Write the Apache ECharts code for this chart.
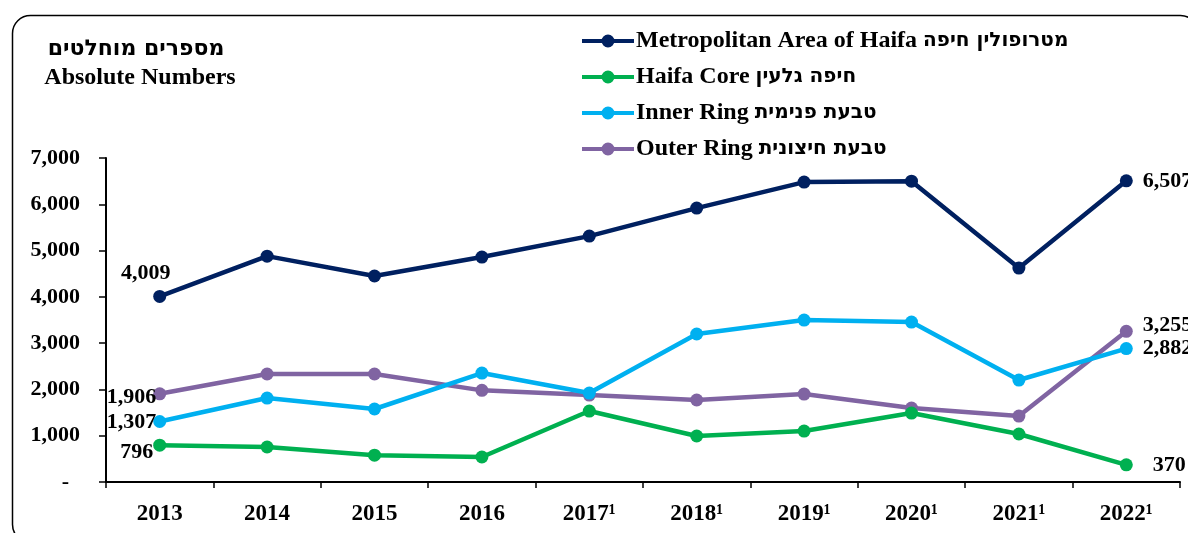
<!DOCTYPE html>
<html>
<head>
<meta charset="utf-8">
<script src="https://cdn.jsdelivr.net/npm/echarts@6/dist/echarts.min.js"></script>
<style>
  html, body { margin: 0; padding: 0; background: #fff; }
  #chart { width: 1188px; height: 533px; }
</style>
</head>
<body>
<div id="chart"></div>
<script>
const years = ['2013', '2014', '2015', '2016', '2017¹', '2018¹', '2019¹', '2020¹', '2021¹', '2022¹'];
const yTicks = [0, 1000, 2000, 3000, 4000, 5000, 6000, 7000];

const namesEn = ['Metropolitan Area of Haifa', 'Haifa Core', 'Inner Ring', 'Outer Ring'];
const namesHe = ['מטרופולין חיפה', 'חיפה גלעין', 'טבעת פנימית', 'טבעת חיצונית'];
const seriesNames = namesEn.map((n, i) => n + ' ' + namesHe[i]);

const metro = [4009, 4880, 4450, 4860, 5313, 5918, 6480, 6500, 4622, 6507];
const core = [796, 756, 580, 540, 1533, 994, 1100, 1490, 1037, 370];
const inner = [1307, 1814, 1577, 2354, 1922, 3197, 3499, 3456, 2203, 2882];
const outer = [1906, 2333, 2333, 1980, 1879, 1771, 1900, 1598, 1425, 3255];

const colors = ['#002060', '#00B050', '#00B0F0', '#8064A2'];

const font = '"Liberation Serif", "Times New Roman", serif';
const heFont = '"DejaVu Sans", sans-serif';
const fmt = v => v === 0 ? '-  ' : v.toLocaleString('en-US');

const labelStyle = {
    show: true,
    color: '#000',
    fontFamily: font,
    fontWeight: 'bold',
    fontSize: 22,
    formatter: p => fmt(p.value)
};

// only first and last points carry a value label
function withLabels(values, first, last) {
    return values.map((v, i) => {
        if (i === 0) return { value: v, label: Object.assign({}, labelStyle, first) };
        if (i === values.length - 1) return { value: v, label: Object.assign({}, labelStyle, last) };
        return v;
    });
}

const data = [
    withLabels(metro, { position: 'top', distance: 6, offset: [-14, 0] }, { position: 'right', distance: 10 }),
    withLabels(core, { position: 'left', distance: 0, offset: [0, 7] }, { position: 'right', distance: 20 }),
    withLabels(inner, { position: 'left', distance: -3, offset: [0, 1] }, { position: 'right', distance: 10 }),
    withLabels(outer, { position: 'left', distance: -3, offset: [0, 4] }, { position: 'right', distance: 10, offset: [0, -6] })
];

// legend icon: thick line with a dot in the middle
const legendIcon = 'path://M0,6 H52 V10 H0 Z M32.5,8 A6.5,6.5 0 1 1 19.5,8 A6.5,6.5 0 1 1 32.5,8 Z';

const chart = echarts.init(document.getElementById('chart'));
const option = {
    animation: false,
    backgroundColor: '#fff',
    textStyle: { fontFamily: font },
    graphic: [
        {
            type: 'rect',
            left: 10, top: 13,
            shape: { width: 1186, height: 527, r: 18 },
            style: { fill: 'none', stroke: '#000', lineWidth: 1.5 },
            silent: true
        },
        {
            type: 'text',
            silent: true,
            style: {
                x: 136, y: 49,
                text: 'מספרים מוחלטים',
                align: 'center',
                verticalAlign: 'middle',
                fontFamily: heFont,
                fontWeight: 'bold',
                fontSize: 22,
                fill: '#000'
            }
        },
        {
            type: 'text',
            silent: true,
            style: {
                x: 140, y: 78,
                text: 'Absolute Numbers',
                align: 'center',
                verticalAlign: 'middle',
                fontFamily: font,
                fontWeight: 'bold',
                fontSize: 24,
                fill: '#000'
            }
        }
    ],
    legend: {
        orient: 'vertical',
        left: 582,
        top: 29,
        padding: 0,
        itemWidth: 52,
        itemHeight: 16,
        itemGap: 12,
        icon: legendIcon,
        formatter: name => {
            const i = seriesNames.indexOf(name);
            return '{en|' + namesEn[i] + ' }{he|' + namesHe[i] + '}';
        },
        textStyle: {
            color: '#000',
            padding: [0, 0, 0, -3],
            rich: {
                en: { fontFamily: font, fontWeight: 'bold', fontSize: 24, color: '#000' },
                he: { fontFamily: heFont, fontWeight: 'bold', fontSize: 20, color: '#000' }
            }
        },
        data: seriesNames
    },
    grid: {
        left: 106,
        right: 8,
        top: 158,
        bottom: 51
    },
    xAxis: {
        type: 'category',
        data: years,
        boundaryGap: true,
        axisLine: { lineStyle: { color: '#000', width: 2 } },
        axisTick: { show: true, length: 6, lineStyle: { color: '#000', width: 1.5 } },
        axisLabel: {
            color: '#000',
            fontFamily: font,
            fontWeight: 'bold',
            fontSize: 23,
            margin: 21
        }
    },
    yAxis: {
        type: 'value',
        min: yTicks[0],
        max: yTicks[yTicks.length - 1],
        interval: yTicks[1] - yTicks[0],
        splitLine: { show: false },
        axisLine: { show: true, lineStyle: { color: '#000', width: 2 } },
        axisTick: { show: true, length: 7, lineStyle: { color: '#000', width: 1.5 } },
        axisLabel: {
            color: '#000',
            fontFamily: font,
            fontWeight: 'bold',
            fontSize: 22,
            margin: 26,
            formatter: fmt
        }
    },
    series: seriesNames.map((name, k) => ({
        name,
        type: 'line',
        data: data[k],
        color: colors[k],
        symbol: 'circle',
        symbolSize: 13,
        lineStyle: { width: 4.5, color: colors[k] },
        itemStyle: { color: colors[k] },
        z: 10 - k
    }))
};
chart.setOption(option);
</script>
</body>
</html>
